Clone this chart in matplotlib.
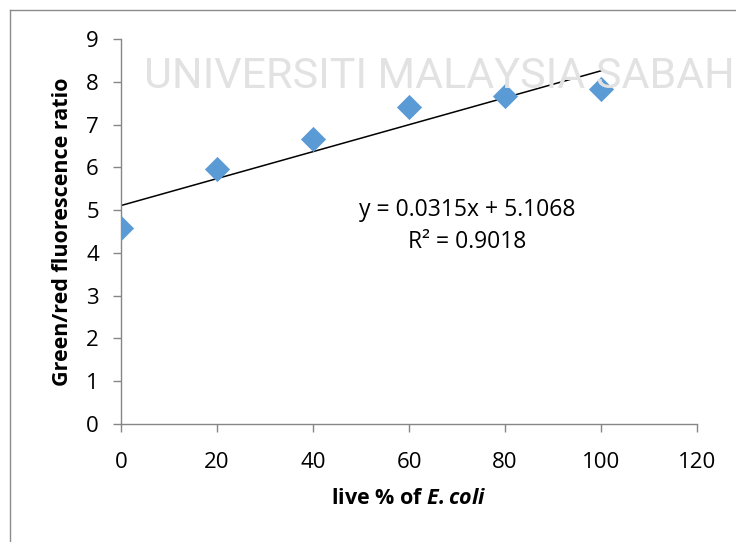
import matplotlib
matplotlib.use("Agg")
import matplotlib.pyplot as plt
from matplotlib.lines import Line2D

plt.rcParams['font.family'] = ['Open Sans', 'DejaVu Sans']
plt.rcParams['mathtext.fontset'] = 'custom'
plt.rcParams['mathtext.rm'] = 'Open Sans'
plt.rcParams['mathtext.bf'] = 'Open Sans:bold'
plt.rcParams['mathtext.bfit'] = 'Open Sans:italic:bold'
plt.rcParams['mathtext.it'] = 'Open Sans:italic'

live_pct = [0, 20, 40, 60, 80, 100]
ratio = [4.58, 5.96, 6.66, 7.41, 7.66, 7.83]
slope = 0.0315
intercept = 5.1068
r2 = 0.9018
x_ticks = [0, 20, 40, 60, 80, 100, 120]
y_ticks = [0, 1, 2, 3, 4, 5, 6, 7, 8, 9]

fig = plt.figure(figsize=(7.36, 5.42), dpi=100)
fig.patch.set_facecolor('white')

# watermark
fig.text(0.998, 0.858, "UNIVERSITI MALAYSIA SABAH", color='#e2e2e2', fontsize=31,
         ha='right', va='center', family='Roboto', zorder=0)

# chart area border
fig.add_artist(Line2D([10/736, 1], [1-10/542, 1-10/542], color='#8c8c8c', lw=1))
fig.add_artist(Line2D([10/736, 10/736], [0, 1-10/542], color='#8c8c8c', lw=1))

ax = fig.add_axes([121/736, 1-424/542, (697-121)/736, (424-39)/542])
ax.patch.set_alpha(0)

ax.scatter(live_pct, ratio, marker='D', s=165, color='#5B9BD5', zorder=3, linewidths=0)
xs = [min(live_pct), max(live_pct)]
ax.plot(xs, [slope*x + intercept for x in xs], color='black', lw=1.1, zorder=2)

ax.set_xlim(0, 120)
ax.set_ylim(0, 9)
ax.set_xticks(x_ticks)
ax.set_yticks(y_ticks)
for s in ['top', 'right']:
    ax.spines[s].set_visible(False)
for s in ['left', 'bottom']:
    ax.spines[s].set_color('#868686')
    ax.spines[s].set_linewidth(1.0)
ax.tick_params(axis='both', colors='#868686', length=6, width=1, labelsize=16,
               labelcolor='black')
ax.tick_params(axis='x', pad=14)
ax.tick_params(axis='y', pad=10)

ax.set_xlabel(r"live % of $\bfit{E. coli}$", fontsize=15.5, fontweight='bold')
ax.xaxis.set_label_coords(0.5, -0.166)
ax.set_ylabel("Green/red fluorescence ratio", fontsize=15.5, fontweight='bold')
ax.yaxis.set_label_coords(-0.083, 0.5)

fig.text(467/736, 1-210/542, f"y = {slope}x + {intercept}", fontsize=16.5,
         ha='center', va='center')
fig.text(467/736, 1-242/542, f"R² = {r2}", fontsize=16.5, ha='center', va='center')

fig.savefig("out.png", dpi=100)
